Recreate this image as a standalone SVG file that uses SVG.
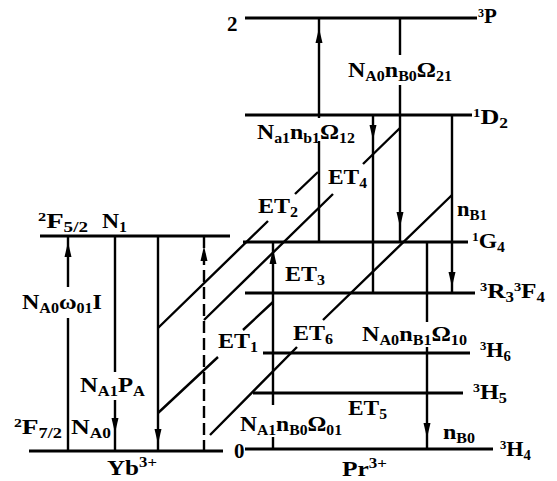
<svg xmlns="http://www.w3.org/2000/svg" width="557" height="481" viewBox="0 0 557 481">
<style>
.lv{stroke:#000;stroke-width:3;fill:none}
.tr{stroke:#000;stroke-width:2.4;fill:none}
.dash{stroke-dasharray:12 5}
text{font-family:"Liberation Serif","Times New Roman",serif;font-size:21px;font-weight:bold;fill:#000}
.s{font-size:14px}
.sp{font-size:12px}
</style>
<defs><path id="ah" d="M0,0 L3.5,15 L-3.5,15 Z" fill="#000"/></defs>
<rect width="557" height="481" fill="#fff"/>

<g id="lvl-3P">
<line class="lv" x1="245" y1="18" x2="477" y2="18"/>
<text x="227" y="31" font-weight="normal">2</text>
<text x="478" y="23" font-size="16" font-weight="normal"><tspan class="sp" dy="-6">3</tspan><tspan dy="6">P</tspan></text>
</g>
<g id="lvl-1D2">
<line class="lv" x1="245" y1="115" x2="472" y2="115"/>
<text x="473" y="124" textLength="35" lengthAdjust="spacingAndGlyphs"><tspan class="sp" dy="-7">1</tspan><tspan dy="7">D</tspan><tspan class="s" dy="4">2</tspan></text>
</g>
<g id="lvl-1G4">
<line class="lv" x1="243" y1="242" x2="468" y2="242"/>
<text x="472" y="248" textLength="33" lengthAdjust="spacingAndGlyphs"><tspan class="sp" dy="-7">1</tspan><tspan dy="7">G</tspan><tspan class="s" dy="4">4</tspan></text>
</g>
<g id="lvl-3R3F4">
<line class="lv" x1="245" y1="293" x2="475" y2="293"/>
<text x="480" y="298" textLength="65" lengthAdjust="spacingAndGlyphs"><tspan class="sp" dy="-7">3</tspan><tspan dy="7">R</tspan><tspan class="s" dy="4">3</tspan><tspan class="sp" dy="-11">3</tspan><tspan dy="7">F</tspan><tspan class="s" dy="4">4</tspan></text>
</g>
<g id="lvl-3H6">
<line class="lv" x1="263" y1="353" x2="470" y2="353"/>
<text x="480" y="357" textLength="31" lengthAdjust="spacingAndGlyphs"><tspan class="sp" dy="-7">3</tspan><tspan dy="7">H</tspan><tspan class="s" dy="4">6</tspan></text>
</g>
<g id="lvl-3H5">
<line class="lv" x1="253" y1="393" x2="463" y2="393"/>
<text x="473" y="399" textLength="34" lengthAdjust="spacingAndGlyphs"><tspan class="sp" dy="-7">3</tspan><tspan dy="7">H</tspan><tspan class="s" dy="4">5</tspan></text>
</g>
<g id="lvl-3H4">
<line class="lv" x1="245" y1="449" x2="493" y2="449"/>
<text x="234" y="458" font-size="21" font-weight="normal">0</text>
<text x="500" y="456" textLength="31" lengthAdjust="spacingAndGlyphs"><tspan class="sp" dy="-7">3</tspan><tspan dy="7">H</tspan><tspan class="s" dy="4">4</tspan></text>
<text x="342" y="476" textLength="45" lengthAdjust="spacingAndGlyphs">Pr<tspan class="s" dy="-8">3+</tspan></text>
</g>
<g id="lvl-Yb-2F52">
<line class="lv" x1="40" y1="236" x2="230" y2="236"/>
<text x="38" y="228" textLength="50" lengthAdjust="spacingAndGlyphs"><tspan class="sp" dy="-7">2</tspan><tspan dy="7">F</tspan><tspan class="s" dy="4">5/2</tspan></text>
<text x="102" y="228" textLength="25" lengthAdjust="spacingAndGlyphs">N<tspan class="s" dy="4">1</tspan></text>
</g>
<g id="lvl-Yb-2F72">
<line class="lv" x1="29" y1="451" x2="223" y2="451"/>
<text x="14" y="434" textLength="48" lengthAdjust="spacingAndGlyphs"><tspan class="sp" dy="-7">2</tspan><tspan dy="7">F</tspan><tspan class="s" dy="4">7/2</tspan></text>
<text x="71" y="434" textLength="40" lengthAdjust="spacingAndGlyphs">N<tspan class="s" dy="4">A0</tspan></text>
<text x="107" y="475" textLength="50" lengthAdjust="spacingAndGlyphs">Yb<tspan class="s" dy="-8">3+</tspan></text>
</g>

<g id="connectors">
<path class="tr" d="M68,236 V287 M68,318 V451 M115,236 V372 M115,400 V451 M158,236 V451"/>
<path class="tr dash" d="M204,236 V451"/>
<path class="tr" d="M273,243 V405 M273,437 V449 M319,18 V118 M319,141 V243 M373,115 V293 M400,18 V55 M400,85 V243 M427,242 V322 M427,347 V449 M452,115 V293"/>
<path class="tr" d="M158,328 L268,221 M295,194 L318,172"/>
<path class="tr" d="M204,320 L333,194 M363,164 L400,128"/>
<path class="tr" d="M158,413 L218,357 M243,330 L273,302"/>
<path class="tr" d="M210,435 L297,347 M323,320 L452,195"/>
<use href="#ah" transform="translate(68,242)"/>
<use href="#ah" transform="translate(204,246)"/>
<use href="#ah" transform="translate(115,433) rotate(180)"/>
<use href="#ah" transform="translate(158,444) rotate(180)"/>
<use href="#ah" transform="translate(273,249)"/>
<use href="#ah" transform="translate(319,28)"/>
<use href="#ah" transform="translate(373,140) rotate(180)"/>
<use href="#ah" transform="translate(400,227) rotate(180)"/>
<use href="#ah" transform="translate(427,438) rotate(180)"/>
<use href="#ah" transform="translate(452,287) rotate(180)"/>
</g>

<g id="labels">
<text x="22" y="309" textLength="80" lengthAdjust="spacingAndGlyphs">N<tspan class="s" dy="4">A0</tspan><tspan dy="-4">ω</tspan><tspan class="s" dy="4">01</tspan><tspan dy="-4">I</tspan></text>
<text x="80" y="392" textLength="65" lengthAdjust="spacingAndGlyphs">N<tspan class="s" dy="4">A1</tspan><tspan dy="-4">P</tspan><tspan class="s" dy="4">A</tspan></text>
<text x="257" y="139" textLength="98" lengthAdjust="spacingAndGlyphs">N<tspan class="s" dy="4">a1</tspan><tspan dy="-4">n</tspan><tspan class="s" dy="4">b1</tspan><tspan dy="-4">Ω</tspan><tspan class="s" dy="4">12</tspan></text>
<text x="348" y="77" textLength="104" lengthAdjust="spacingAndGlyphs">N<tspan class="s" dy="4">A0</tspan><tspan dy="-4">n</tspan><tspan class="s" dy="4">B0</tspan><tspan dy="-4">Ω</tspan><tspan class="s" dy="4">21</tspan></text>
<text x="362" y="341" textLength="105" lengthAdjust="spacingAndGlyphs">N<tspan class="s" dy="4">A0</tspan><tspan dy="-4">n</tspan><tspan class="s" dy="4">B1</tspan><tspan dy="-4">Ω</tspan><tspan class="s" dy="4">10</tspan></text>
<text x="240" y="431" textLength="102" lengthAdjust="spacingAndGlyphs">N<tspan class="s" dy="4">A1</tspan><tspan dy="-4">n</tspan><tspan class="s" dy="4">B0</tspan><tspan dy="-4">Ω</tspan><tspan class="s" dy="4">01</tspan></text>
<text x="457" y="216" textLength="30" lengthAdjust="spacingAndGlyphs">n<tspan class="s" dy="4">B1</tspan></text>
<text x="443" y="439" textLength="32" lengthAdjust="spacingAndGlyphs">n<tspan class="s" dy="4">B0</tspan></text>
<text x="258" y="213" textLength="40" lengthAdjust="spacingAndGlyphs">ET<tspan class="s" dy="4">2</tspan></text>
<text x="328" y="184" textLength="39" lengthAdjust="spacingAndGlyphs">ET<tspan class="s" dy="4">4</tspan></text>
<text x="285" y="281" textLength="40" lengthAdjust="spacingAndGlyphs">ET<tspan class="s" dy="4">3</tspan></text>
<text x="293" y="340" textLength="40" lengthAdjust="spacingAndGlyphs">ET<tspan class="s" dy="4">6</tspan></text>
<text x="218" y="348" textLength="40" lengthAdjust="spacingAndGlyphs">ET<tspan class="s" dy="4">1</tspan></text>
<text x="348" y="415" textLength="39" lengthAdjust="spacingAndGlyphs">ET<tspan class="s" dy="4">5</tspan></text>
</g>
</svg>
